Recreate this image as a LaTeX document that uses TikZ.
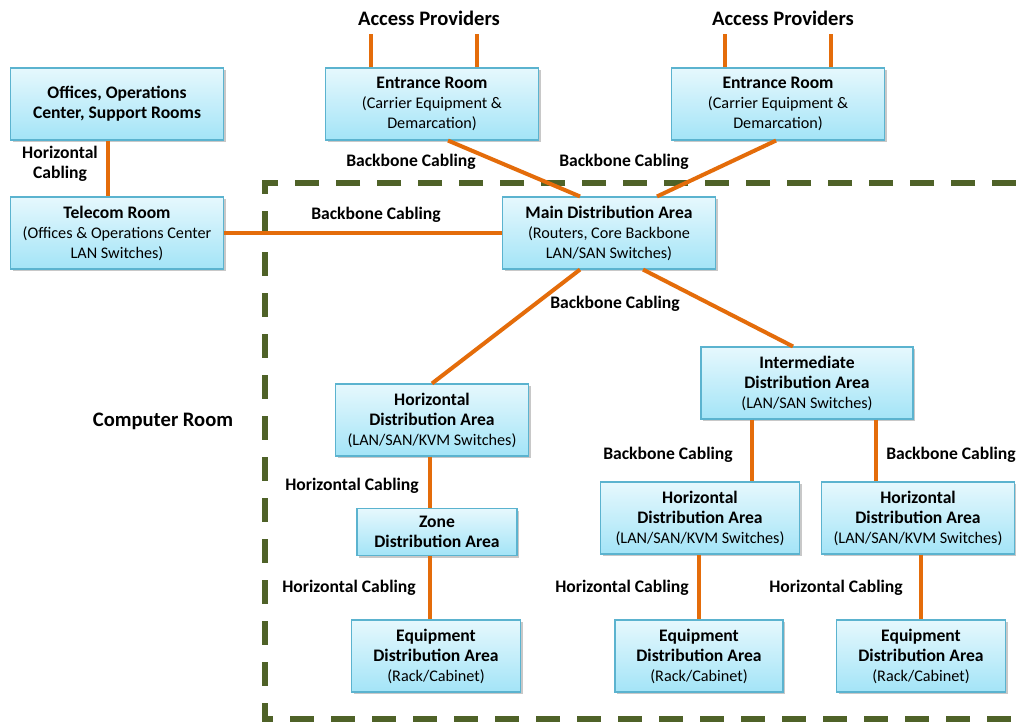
\documentclass[tikz,border=0pt]{standalone}
\usepackage{fontspec}
\setmainfont{Carlito}
\usetikzlibrary{shadows}
\definecolor{cableorange}{HTML}{E46C0A}
\definecolor{roomedge}{HTML}{5BB3CF}
\definecolor{roomtop}{HTML}{E6F8FD}
\definecolor{roombot}{HTML}{A3E4F7}
\definecolor{zoneolive}{HTML}{4F6228}
\tikzset{
  room/.style={draw=roomedge, line width=1.1pt, top color=roomtop, bottom color=roombot,
    minimum height=72pt, align=center, inner sep=2pt,
    font=\bfseries\fontsize{17.6}{20}\selectfont,
    drop shadow={shadow xshift=2pt, shadow yshift=-2pt, opacity=0.3, fill=black!70}},
  cable/.style={draw=cableorange, line width=4pt},
  lbl/.style={font=\bfseries\fontsize{17.6}{20}\selectfont, align=center},
  biglbl/.style={font=\bfseries\fontsize{20.6}{24}\selectfont},
}
\newcommand{\detail}[1]{{\mdseries\fontsize{16.2}{20}\selectfont #1}}
\begin{document}
\begin{tikzpicture}[x=1pt, y=-1pt]
  \useasboundingbox[fill=white] (0,0) rectangle (1016,724);
  \draw[zoneolive, line width=6pt, dash pattern=on 24pt off 17pt] (1016,183) -- (265,183) -- (265,719) -- (1016,719);

  \node[room, minimum width=213pt] (offices) at (117,104) {Offices, Operations\\Center, Support Rooms};
  \node[room, minimum width=213pt] (telecom) at (117,233) {Telecom Room\\\detail{(Offices \& Operations Center}\\\detail{LAN Switches)}};
  \node[room, minimum width=213pt] (entrA) at (432,104) {Entrance Room\\\detail{(Carrier Equipment \&}\\\detail{Demarcation)}};
  \node[room, minimum width=213pt] (entrB) at (778,104) {Entrance Room\\\detail{(Carrier Equipment \&}\\\detail{Demarcation)}};
  \node[room, minimum width=213pt] (mda) at (609,233) {Main Distribution Area\\\detail{(Routers, Core Backbone}\\\detail{LAN/SAN Switches)}};
  \node[room, minimum width=212pt] (ida) at (807,383) {Intermediate\\Distribution Area\\\detail{(LAN/SAN Switches)}};
  \node[room, minimum width=193pt] (hdaA) at (432,420) {Horizontal\\Distribution Area\\\detail{(LAN/SAN/KVM Switches)}};
  \node[room, minimum width=160pt, minimum height=47pt] (zda) at (437,532) {Zone\\Distribution Area};
  \node[room, minimum width=169pt] (edaA) at (436,656) {Equipment\\Distribution Area\\\detail{(Rack/Cabinet)}};
  \node[room, minimum width=199pt] (hdaB) at (700,518) {Horizontal\\Distribution Area\\\detail{(LAN/SAN/KVM Switches)}};
  \node[room, minimum width=193pt] (hdaC) at (918,518) {Horizontal\\Distribution Area\\\detail{(LAN/SAN/KVM Switches)}};
  \node[room, minimum width=168pt] (edaB) at (699,656) {Equipment\\Distribution Area\\\detail{(Rack/Cabinet)}};
  \node[room, minimum width=169pt] (edaC) at (921,656) {Equipment\\Distribution Area\\\detail{(Rack/Cabinet)}};

  \node[biglbl] (accA) at (429,18) {Access Providers};
  \node[biglbl] (accB) at (783,18) {Access Providers};
  \node[lbl] (hcOff) at (60,164) {Horizontal\\Cabling};
  \node[lbl] (bbA) at (411,162) {Backbone Cabling};
  \node[lbl] (bbB) at (624,162) {Backbone Cabling};
  \node[lbl] (bbTel) at (376,215) {Backbone Cabling};
  \node[lbl] (bbMda) at (615,304) {Backbone Cabling};
  \node[lbl] (bbIdaA) at (668,455) {Backbone Cabling};
  \node[lbl] (bbIdaB) at (951,455) {Backbone Cabling};
  \node[biglbl] (croom) at (163,421) {Computer Room};
  \node[lbl] (hcHda) at (352,486) {Horizontal Cabling};
  \node[lbl] (hcZone) at (349,588) {Horizontal Cabling};
  \node[lbl] (hcB) at (622,588) {Horizontal Cabling};
  \node[lbl] (hcC) at (836,588) {Horizontal Cabling};

  \draw[cable] ([xshift=-61pt]entrA.north) -- ++(0,-33);
  \draw[cable] ([xshift=45pt]entrA.north) -- ++(0,-33);
  \draw[cable] ([xshift=-53pt]entrB.north) -- ++(0,-33);
  \draw[cable] ([xshift=53pt]entrB.north) -- ++(0,-33);
  \draw[cable] ([xshift=-9pt]offices.south) -- ([xshift=-9pt]telecom.north);
  \draw[cable] (telecom) -- (mda);
  \draw[cable] ([xshift=16pt]entrA.south) -- ([xshift=-29pt]mda.north);
  \draw[cable] ([xshift=-2pt]entrB.south) -- ([xshift=48pt]mda.north);
  \draw[cable] ([xshift=-29pt]mda.south) -- (hdaA.north);
  \draw[cable] ([xshift=34pt]mda.south) -- ([xshift=-14pt]ida.north);
  \draw[cable] ([xshift=-55pt]ida.south) -- ([xshift=52pt]hdaB.north);
  \draw[cable] ([xshift=69pt]ida.south) -- ([xshift=-42pt]hdaC.north);
  \draw[cable] ([xshift=-2pt]hdaA.south) -- ([xshift=-7pt]zda.north);
  \draw[cable] ([xshift=-7pt]zda.south) -- ([xshift=-6pt]edaA.north);
  \draw[cable] ([xshift=-1pt]hdaB.south) -- (edaB.north);
  \draw[cable] ([xshift=3pt]hdaC.south) -- (edaC.north);
\end{tikzpicture}
\end{document}
